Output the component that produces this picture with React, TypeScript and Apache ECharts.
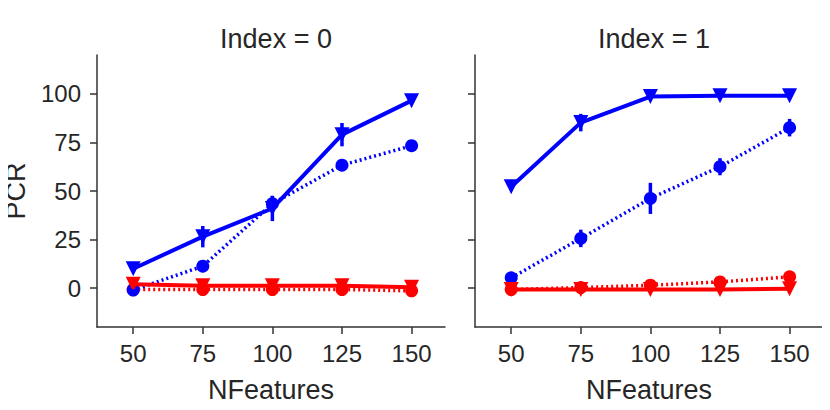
import React, { useEffect, useRef } from "react";
import * as echarts from "echarts";

const xValues = [50, 75, 100, 125, 150];
const yTicks = [0, 25, 50, 75, 100];
const panelTitles = ["Index = 0", "Index = 1"];

// Index = 0
const blueTri0 = [10, 26.5, 41, 79, 96.5];
const blueTri0Err = [1, 5.5, 6.5, 6, 1];
const blueDot0 = [-1, 11.3, 43.5, 63.3, 73.3];
const blueDot0Err = [0.5, 1, 4, 1, 1];
const redTri0 = [2, 1.2, 1.2, 1.2, 0.5];
const redDot0 = [-0.7, -0.7, -0.7, -0.7, -1.4];

// Index = 1
const blueTri1 = [52.2, 85.2, 98.6, 99, 99];
const blueTri1Err = [1, 4.5, 1, 0.5, 0.5];
const blueDot1 = [5.3, 25.6, 46.2, 62.5, 82.6];
const blueDot1Err = [1, 4.5, 8, 4.4, 4.5];
const redTri1 = [-0.7, -0.7, -0.7, -0.7, -0.3];
const redDot1 = [-0.7, 0.3, 1.5, 3.2, 5.8];

const BLUE = "#0000ff";
const RED = "#ff0000";
const FONT = "Liberation Sans";
const TEXT = "#262626";
const AXIS = "#333333";

function pts(vals: number[]) {
  return vals.map((v, i) => [xValues[i], v]);
}

function errData(vals: number[], errs: number[]) {
  return vals.map((v, i) => [xValues[i], v - errs[i], v + errs[i]]);
}

export default function App() {
  const ref = useRef<HTMLDivElement>(null);
  useEffect(() => {
    if (!ref.current) return;
    const chart = echarts.init(ref.current, null, { renderer: "svg" });

    const grids = [
      { left: 97, top: 55, width: 348, height: 272 },
      { left: 475, top: 55, width: 348, height: 272 },
    ];

    const xAxes = [0, 1].map((i) => ({
      type: "value",
      gridIndex: i,
      min: 37,
      max: 162,
      name: "NFeatures",
      nameLocation: "middle",
      nameGap: 49,
      nameTextStyle: { fontFamily: FONT, fontSize: 27, color: TEXT },
      splitLine: { show: false },
      axisLine: { show: true, onZero: false, lineStyle: { color: AXIS, width: 1.5 } },
      axisTick: { show: true, length: 7, customValues: xValues, lineStyle: { color: AXIS, width: 1.5 } },
      axisLabel: { customValues: xValues, margin: 14, fontFamily: FONT, fontSize: 24, color: TEXT },
    }));

    const yAxes = [0, 1].map((i) => ({
      type: "value",
      gridIndex: i,
      min: -20,
      max: 120,
      name: i === 0 ? "PCR" : "",
      nameLocation: "middle",
      nameGap: 68,
      nameTextStyle: { fontFamily: FONT, fontSize: 27, color: TEXT },
      splitLine: { show: false },
      axisLine: { show: true, onZero: false, lineStyle: { color: AXIS, width: 1.5 } },
      axisTick: { show: true, length: 7, customValues: yTicks, lineStyle: { color: AXIS, width: 1.5 } },
      axisLabel: {
        show: i === 0,
        customValues: yTicks,
        margin: 16,
        fontFamily: FONT,
        fontSize: 24,
        color: TEXT,
      },
    }));

    const lineSeries = (
      idx: number,
      vals: number[],
      color: string,
      tri: boolean,
      z: number
    ) => ({
      type: "line",
      xAxisIndex: idx,
      yAxisIndex: idx,
      data: pts(vals),
      symbol: tri ? "triangle" : "circle",
      symbolRotate: tri ? 180 : 0,
      symbolSize: tri ? 15 : 13,
      itemStyle: { color },
      lineStyle: tri
        ? { color, width: 4, type: "solid" }
        : { color, width: 3.5, type: [2, 3] },
      z,
    });

    const errSeries = (idx: number, vals: number[], errs: number[], color: string) => ({
      type: "custom",
      xAxisIndex: idx,
      yAxisIndex: idx,
      data: errData(vals, errs),
      z: 5,
      renderItem: (params: any, api: any) => {
        const p1 = api.coord([api.value(0), api.value(1)]);
        const p2 = api.coord([api.value(0), api.value(2)]);
        return {
          type: "line",
          shape: { x1: p1[0], y1: p1[1], x2: p2[0], y2: p2[1] },
          style: { stroke: color, lineWidth: 3.5 },
        };
      },
    });

    chart.setOption({
      animation: false,
      title: panelTitles.map((t, i) => ({
        text: t,
        left: grids[i].left + grids[i].width / 2,
        top: 20,
        textAlign: "center",
        textStyle: { fontFamily: FONT, fontSize: 27, fontWeight: "normal", color: TEXT },
      })),
      grid: grids,
      xAxis: xAxes,
      yAxis: yAxes,
      series: [
        lineSeries(0, redDot0, RED, false, 2),
        lineSeries(0, redTri0, RED, true, 3),
        lineSeries(0, blueDot0, BLUE, false, 2),
        lineSeries(0, blueTri0, BLUE, true, 3),
        errSeries(0, blueTri0, blueTri0Err, BLUE),
        errSeries(0, blueDot0, blueDot0Err, BLUE),
        lineSeries(1, redDot1, RED, false, 2),
        lineSeries(1, redTri1, RED, true, 3),
        lineSeries(1, blueDot1, BLUE, false, 2),
        lineSeries(1, blueTri1, BLUE, true, 3),
        errSeries(1, blueTri1, blueTri1Err, BLUE),
        errSeries(1, blueDot1, blueDot1Err, BLUE),
      ],
    });
    return () => chart.dispose();
  }, []);
  return <div ref={ref} style={{ width: 830, height: 410, margin: -8 }} />;
}
